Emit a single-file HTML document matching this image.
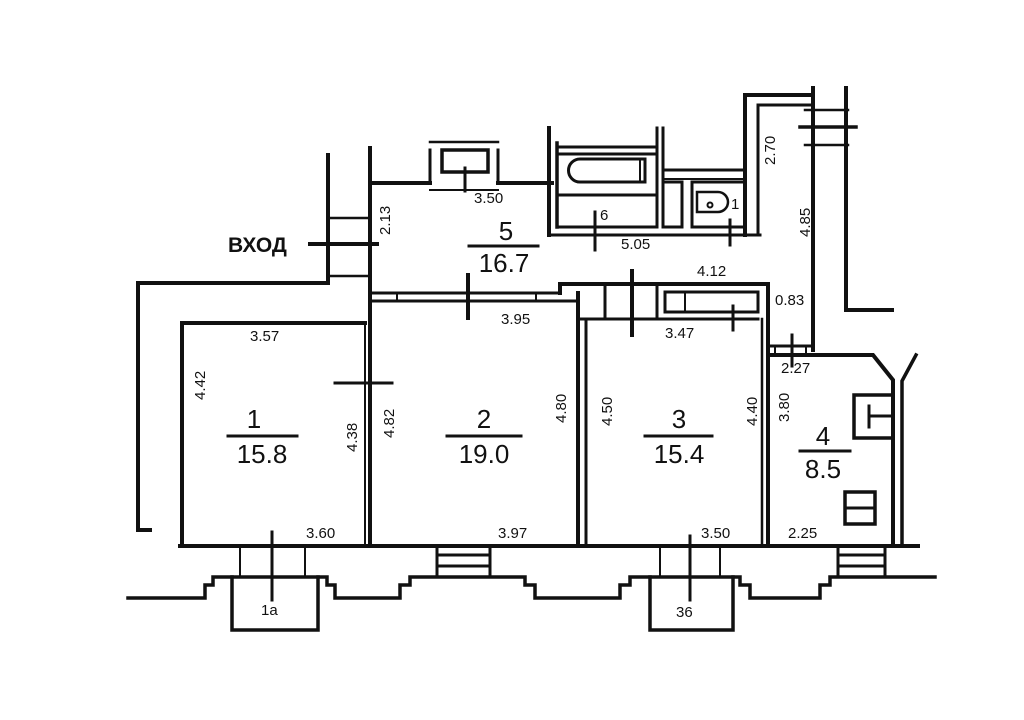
<!DOCTYPE html>
<html><head><meta charset="utf-8"><style>
html,body{margin:0;padding:0;background:#fff;width:1024px;height:720px;overflow:hidden}
svg{display:block}
text{font-family:"Liberation Sans",sans-serif;fill:#111}
.d{font-size:15px}
.r{font-size:26px}
</style></head><body>
<svg width="1024" height="720" viewBox="0 0 1024 720" xmlns="http://www.w3.org/2000/svg">
<g stroke="#111" stroke-width="4" fill="none" stroke-linecap="square">
<!-- left outer -->
<polyline points="150,530 138,530 138,283 328,283 328,155"/>
<line x1="328" y1="218" x2="370" y2="218" stroke-width="2.5"/>
<line x1="328" y1="276" x2="370" y2="276" stroke-width="2.5"/>
<line x1="310" y1="244" x2="377" y2="244"/>
<!-- main vertical wall 370 -->
<line x1="370" y1="148" x2="370" y2="546"/>
<line x1="365" y1="323" x2="365" y2="546" stroke-width="2"/>
<!-- room1 -->
<polyline points="365,323 182,323 182,546"/>
<line x1="335" y1="383" x2="392" y2="383" stroke-width="3"/>
<!-- room5 top -->
<line x1="370" y1="183" x2="430" y2="183"/>
<line x1="498" y1="183" x2="552" y2="183"/>
<line x1="430" y1="190" x2="498" y2="190" stroke-width="2"/>
<line x1="430" y1="150" x2="430" y2="183" stroke-width="3"/>
<line x1="498" y1="150" x2="498" y2="183" stroke-width="3"/>
<line x1="430" y1="142" x2="498" y2="142" stroke-width="2.5"/>
<rect x="442" y="150" width="46" height="22" stroke-width="3.5"/>
<line x1="465" y1="168" x2="465" y2="191" stroke-width="3"/>
<!-- bathroom -->
<line x1="549" y1="128" x2="549" y2="235"/>
<line x1="557" y1="143" x2="557" y2="227" stroke-width="3.5"/>
<line x1="657" y1="128" x2="657" y2="227" stroke-width="3"/>
<line x1="557" y1="147" x2="657" y2="147" stroke-width="3"/>
<line x1="557" y1="154" x2="657" y2="154" stroke-width="3"/>
<line x1="557" y1="195" x2="657" y2="195" stroke-width="3"/>
<line x1="557" y1="227" x2="657" y2="227" stroke-width="3"/>
<path d="M580,159 L645,159 L645,182 L580,182 A11.5,11.5 0 0 1 580,159 Z" stroke-width="3"/>
<line x1="640" y1="159" x2="640" y2="182" stroke-width="2"/>
<line x1="549" y1="235" x2="760" y2="235" stroke-width="3"/>
<line x1="595" y1="212" x2="595" y2="250" stroke-width="3"/>
<!-- wc -->
<line x1="663" y1="128" x2="663" y2="227" stroke-width="3"/>
<line x1="663" y1="170" x2="745" y2="170" stroke-width="3"/>
<line x1="663" y1="179" x2="745" y2="179" stroke-width="2"/>
<rect x="663" y="182" width="19" height="45" stroke-width="3"/>
<rect x="692" y="182" width="53" height="45" stroke-width="3"/>
<path d="M697,192 L718,192 A10,10 0 0 1 718,212 L697,212 Z" stroke-width="2.5"/>
<circle cx="710" cy="205" r="2.5" stroke-width="2"/>
<line x1="730" y1="220" x2="730" y2="245" stroke-width="3"/>
<line x1="745" y1="95" x2="745" y2="235"/>
<line x1="758" y1="105" x2="758" y2="235" stroke-width="3"/>
<line x1="745" y1="95" x2="811" y2="95"/>
<line x1="758" y1="105" x2="811" y2="105" stroke-width="3"/>
<!-- right corridor -->
<line x1="813" y1="88" x2="813" y2="350"/>
<polyline points="846,88 846,310 892,310"/>
<line x1="805" y1="110" x2="848" y2="110" stroke-width="2.5"/>
<line x1="800" y1="127" x2="856" y2="127" stroke-width="3.5"/>
<line x1="805" y1="145" x2="848" y2="145" stroke-width="2.5"/>
<!-- room2 top -->
<line x1="370" y1="293" x2="560" y2="293" stroke-width="3"/>
<line x1="370" y1="301" x2="578" y2="301" stroke-width="3"/>
<line x1="397" y1="293" x2="397" y2="301" stroke-width="2"/>
<line x1="536" y1="293" x2="536" y2="301" stroke-width="2"/>
<polyline points="560,293 560,284 768,284 768,546"/>
<line x1="468" y1="275" x2="468" y2="318"/>
<!-- room2/3 divider -->
<line x1="578" y1="293" x2="578" y2="546"/>
<line x1="586" y1="319" x2="586" y2="546" stroke-width="3"/>
<line x1="578" y1="319" x2="758" y2="319" stroke-width="3"/>
<line x1="605" y1="284" x2="605" y2="319" stroke-width="3"/>
<line x1="657" y1="284" x2="657" y2="319" stroke-width="3"/>
<line x1="632" y1="271" x2="632" y2="335" stroke-width="4"/>
<rect x="665" y="292" width="93" height="20" stroke-width="3"/>
<line x1="685" y1="292" x2="685" y2="312" stroke-width="2"/>
<line x1="733" y1="306" x2="733" y2="330" stroke-width="3"/>
<line x1="762" y1="319" x2="762" y2="546" stroke-width="2.5"/>
<!-- room4 -->
<line x1="768" y1="346" x2="813" y2="346" stroke-width="3"/>
<line x1="775" y1="346" x2="775" y2="355" stroke-width="2"/>
<line x1="806" y1="346" x2="806" y2="355" stroke-width="2"/>
<line x1="792" y1="335" x2="792" y2="366" stroke-width="3"/>
<polyline points="768,355 873,355 893,380 893,546"/>
<polyline points="916,355 902,381 902,546" stroke-width="3.5"/>
<rect x="854" y="395" width="39" height="43" stroke-width="3.5"/>
<line x1="869" y1="416" x2="893" y2="416" stroke-width="3"/>
<line x1="869" y1="406" x2="869" y2="427" stroke-width="3"/>
<rect x="845" y="492" width="30" height="32" stroke-width="3.5"/>
<line x1="845" y1="508" x2="875" y2="508" stroke-width="3"/>
<!-- bottom -->
<line x1="180" y1="546" x2="918" y2="546"/>
<line x1="240" y1="546" x2="240" y2="577" stroke-width="2"/>
<line x1="305" y1="546" x2="305" y2="577" stroke-width="2"/>
<line x1="272" y1="532" x2="272" y2="600" stroke-width="3"/>
<line x1="660" y1="546" x2="660" y2="577" stroke-width="2"/>
<line x1="720" y1="546" x2="720" y2="577" stroke-width="2"/>
<line x1="690" y1="536" x2="690" y2="600" stroke-width="3"/>
<polyline points="128,598 205,598 205,585 213,585 213,577 327,577 327,585 335,585 335,598 400,598 400,585 410,585 410,577 525,577 525,585 535,585 535,598 620,598 620,585 630,585 630,577 740,577 740,585 750,585 750,598 820,598 820,585 830,585 830,577 935,577" stroke-width="3.5"/>
<polyline points="232,577 232,630 318,630 318,577" stroke-width="3.5"/>
<polyline points="650,577 650,630 733,630 733,577" stroke-width="3.5"/>
<polyline points="437,546 437,577" stroke-width="3"/><polyline points="490,546 490,577" stroke-width="3"/>
<line x1="437" y1="555" x2="490" y2="555" stroke-width="3"/><line x1="437" y1="566" x2="490" y2="566" stroke-width="3"/>
<polyline points="838,546 838,577" stroke-width="3"/><polyline points="885,546 885,577" stroke-width="3"/>
<line x1="838" y1="555" x2="885" y2="555" stroke-width="3"/><line x1="838" y1="566" x2="885" y2="566" stroke-width="3"/>
<!-- fraction bars -->
<line x1="228" y1="436" x2="297" y2="436" stroke-width="3"/>
<line x1="447" y1="436" x2="521" y2="436" stroke-width="3"/>
<line x1="645" y1="436" x2="712" y2="436" stroke-width="3"/>
<line x1="800" y1="451" x2="850" y2="451" stroke-width="3"/>
<line x1="469" y1="246" x2="538" y2="246" stroke-width="3"/>
</g>
<g>
<text x="228" y="252" font-size="21" font-weight="bold">ВХОД</text>
<text class="d" x="474" y="203">3.50</text>
<text class="d" x="600" y="220">6</text>
<text class="d" x="731" y="209">1</text>
<text class="d" x="621" y="249">5.05</text>
<text class="d" x="697" y="276">4.12</text>
<text class="d" x="775" y="305">0.83</text>
<text class="d" x="501" y="324">3.95</text>
<text class="d" x="665" y="338">3.47</text>
<text class="d" x="250" y="341">3.57</text>
<text class="d" x="781" y="373">2.27</text>
<text class="d" x="306" y="538">3.60</text>
<text class="d" x="498" y="538">3.97</text>
<text class="d" x="701" y="538">3.50</text>
<text class="d" x="788" y="538">2.25</text>
<text class="d" x="261" y="615">1a</text>
<text class="d" x="676" y="617">36</text>
<text class="d" transform="translate(390,235) rotate(-90)">2.13</text>
<text class="d" transform="translate(775,165) rotate(-90)">2.70</text>
<text class="d" transform="translate(810,237) rotate(-90)">4.85</text>
<text class="d" transform="translate(205,400) rotate(-90)">4.42</text>
<text class="d" transform="translate(357,452) rotate(-90)">4.38</text>
<text class="d" transform="translate(394,438) rotate(-90)">4.82</text>
<text class="d" transform="translate(566,423) rotate(-90)">4.80</text>
<text class="d" transform="translate(612,426) rotate(-90)">4.50</text>
<text class="d" transform="translate(757,426) rotate(-90)">4.40</text>
<text class="d" transform="translate(789,422) rotate(-90)">3.80</text>
<text class="r" x="254" y="428" text-anchor="middle">1</text>
<text class="r" x="262" y="463" text-anchor="middle">15.8</text>
<text class="r" x="484" y="428" text-anchor="middle">2</text>
<text class="r" x="484" y="463" text-anchor="middle">19.0</text>
<text class="r" x="679" y="428" text-anchor="middle">3</text>
<text class="r" x="679" y="463" text-anchor="middle">15.4</text>
<text class="r" x="823" y="445" text-anchor="middle">4</text>
<text class="r" x="823" y="478" text-anchor="middle">8.5</text>
<text class="r" x="506" y="240" text-anchor="middle">5</text>
<text class="r" x="504" y="272" text-anchor="middle">16.7</text>
</g>
</svg>
</body></html>
